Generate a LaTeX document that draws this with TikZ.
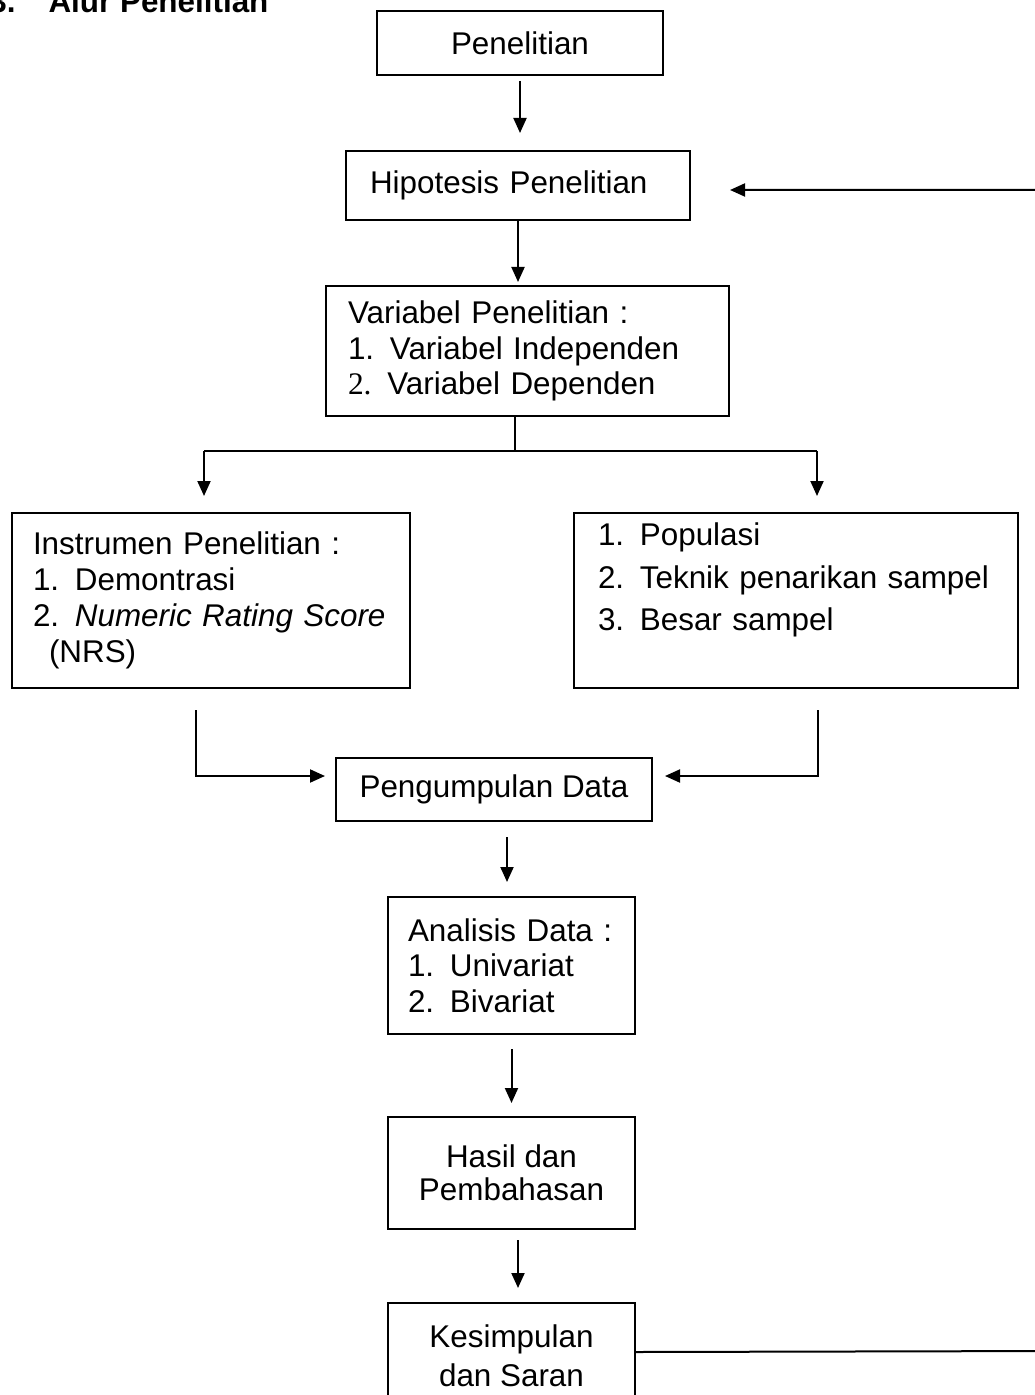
\documentclass[tikz,border=0pt]{standalone}
\usepackage{fontspec}
\setmainfont{Liberation Sans}
\newfontfamily\serifdua{Liberation Serif}
\usetikzlibrary{arrows.meta}
\tikzset{
	kotak/.style={draw, line width=1pt, inner sep=0pt, anchor=north west},
	panah/.style={line width=1pt, -{Triangle[length=7.5pt,width=6.5pt]}},
	garis/.style={line width=1pt}
}
\begin{document}
\begin{tikzpicture}[x=0.5pt, y=-0.5pt, font=\fontsize{15.7pt}{17.75pt}\selectfont]
		\useasboundingbox (0,0) rectangle (1034,1395);
		\node[anchor=base west, inner sep=0pt, font=\fontsize{15.7pt}{18pt}\selectfont\bfseries] (judul) at (-11,13) {3.\hspace{16.5pt}Alur Penelitian};
		\node[kotak, minimum width=143pt, minimum height=32pt] (teliti) at (376,10) {Penelitian};
		\node[kotak, minimum height=34.5pt, inner xsep=12pt, text width=148pt, align=left] (hipo) at (345,150) {Hipotesis Penelitian};
		\node[kotak, minimum height=65pt, inner xsep=11pt, text width=179.5pt, align=left] (vari) at (325,285) {Variabel Penelitian :\\ 1. Variabel Independen\\ {\serifdua 2.} Variabel Dependen};
		\node[kotak, minimum height=87.5pt, inner xsep=10.5pt, text width=178pt, align=left, font=\fontsize{15.7pt}{18pt}\selectfont] (instr) at (11,512) {Instrumen Penelitian :\\ 1. Demontrasi\\ 2. \textit{Numeric Rating Score}\\ \hspace*{8pt}(NRS)};
		\node[kotak, minimum height=87.5pt, inner xsep=12pt, text width=198pt, align=left, font=\fontsize{15.7pt}{21.25pt}\selectfont] (popul) at (573,512) {1. Populasi\\ 2. Teknik penarikan sampel\\ 3. Besar sampel\\[-4pt] \strut};
		\node[kotak, minimum width=158pt, minimum height=31.5pt] (kumpul) at (335,757) {Pengumpulan Data};
		\node[kotak, minimum height=68.5pt, inner xsep=10pt, text width=103.5pt, align=left] (anal) at (387,896) {Analisis Data :\\ 1. Univariat\\ 2. Bivariat};
		\node[kotak, minimum width=123.5pt, minimum height=56pt, align=center, font=\fontsize{15.7pt}{16.75pt}\selectfont] (hasil) at (387,1116) {Hasil dan\\ Pembahasan};
		\node[kotak, minimum width=123.5pt, minimum height=53pt, align=center, font=\fontsize{15.7pt}{19.5pt}\selectfont] (simpul) at (387,1302) {Kesimpulan\\ dan Saran};

		\draw[panah, shorten <=2.5pt, shorten >=8.5pt] (teliti.south) -- (teliti.south |- hipo.north);
		\draw[panah, shorten >=1.5pt] (hipo.south) -- (hipo.south |- vari.north);
		\coordinate (cabang) at (515,451);
		\coordinate (kiri) at (204,451);
		\coordinate (kanan) at (817,451);
		\draw[garis] (cabang |- vari.south) -- (cabang);
		\draw[garis] (kiri) -- (kanan);
		\draw[panah, shorten >=8pt] (kiri) -- (kiri |- instr.north);
		\draw[panah, shorten >=8pt] (kanan) -- (kanan |- popul.north);
		\draw[panah, shorten >=5pt] ([shift={(-7.5pt,-10.5pt)}]instr.south) |- ([yshift=6.75pt]kumpul.west);
		\draw[panah, shorten >=6pt] ([shift={(11pt,-10.5pt)}]popul.south) |- ([yshift=6.75pt]kumpul.east);
		\coordinate (k1) at ([xshift=6.5pt]kumpul.south);
		\draw[panah, shorten <=7.5pt, shorten >=7pt] (k1) -- (k1 |- anal.north);
		\draw[panah, shorten <=7pt, shorten >=6.5pt] (anal.south) -- (hasil.north);
		\coordinate (h1) at ([xshift=3.25pt]hasil.south);
		\draw[panah, shorten <=5pt, shorten >=7pt] (h1) -- (h1 |- simpul.north);
		\coordinate (balik) at (1060,1351);
		\draw[panah, shorten >=19.5pt] ([yshift=2pt]simpul.east) -- (balik) |- ([yshift=-2.25pt]hipo.east);
\end{tikzpicture}
\end{document}
